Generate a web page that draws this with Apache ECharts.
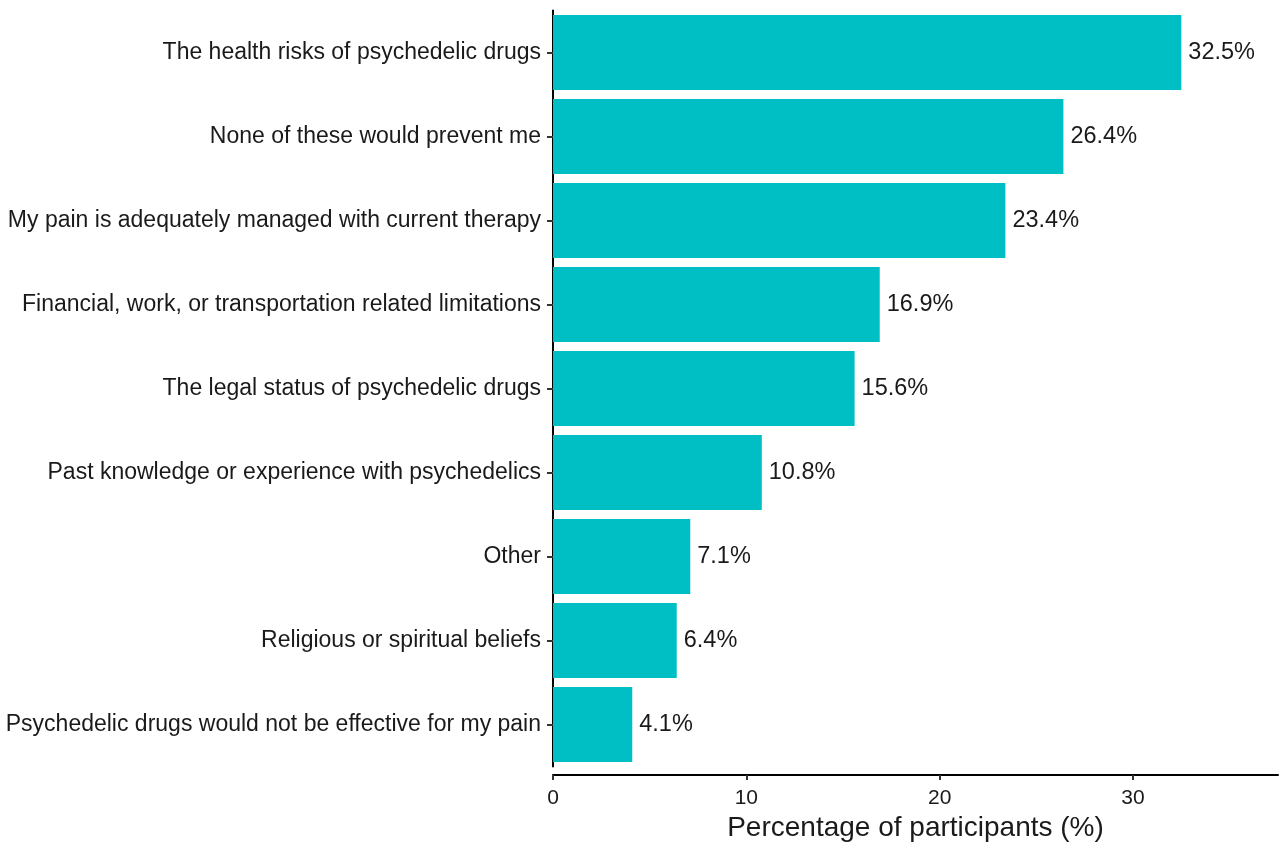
<!DOCTYPE html>
<html><head><meta charset="utf-8">
<script src="https://cdn.jsdelivr.net/npm/echarts@6/dist/echarts.min.js"></script>
<style>html,body{margin:0;padding:0;background:#fff}#c{width:1280px;height:850px}</style>
</head><body><div id="c"></div>
<script>
const categories = [
  "The health risks of psychedelic drugs",
  "None of these would prevent me",
  "My pain is adequately managed with current therapy",
  "Financial, work, or transportation related limitations",
  "The legal status of psychedelic drugs",
  "Past knowledge or experience with psychedelics",
  "Other",
  "Religious or spiritual beliefs",
  "Psychedelic drugs would not be effective for my pain"
];
const values = [32.5, 26.4, 23.4, 16.9, 15.6, 10.8, 7.1, 6.4, 4.1];
const xTicks = [0, 10, 20, 30];

const chart = echarts.init(document.getElementById('c'), null, {renderer: 'canvas'});
const font = 'Liberation Sans, Arial, Helvetica, sans-serif';
chart.setOption({
  animation: false,
  backgroundColor: '#fff',
  grid: {left: 553, right: 2, top: 10.5, bottom: 83.5, containLabel: false, outerBoundsMode: 'none'},
  xAxis: {
    type: 'value', min: 0, max: 37.5, offset: 8.5,
    name: 'Percentage of participants (%)', nameLocation: 'middle', nameGap: 39, nameMoveOverlap: false,
    nameTextStyle: {fontSize: 28, color: '#1a1a1a', fontFamily: font},
    axisLine: {show: true, lineStyle: {color: '#000', width: 2}},
    axisTick: {show: true, length: 5, lineStyle: {color: '#333', width: 2}, customValues: xTicks},
    axisLabel: {fontSize: 21, color: '#1a1a1a', fontFamily: font, margin: 13, customValues: xTicks},
    splitLine: {show: false}
  },
  yAxis: {
    type: 'category', data: categories, inverse: true,
    axisLine: {show: true, lineStyle: {color: '#000', width: 2}},
    axisTick: {show: true, length: 6, alignWithLabel: true, lineStyle: {color: '#333', width: 2}},
    axisLabel: {fontSize: 23, color: '#1a1a1a', fontFamily: font, margin: 12}
  },
  series: [{
    type: 'bar', data: values, barCategoryGap: '10.7%',
    itemStyle: {color: '#00BFC4'},
    label: {show: true, position: 'right', distance: 7, fontSize: 23.5, color: '#1a1a1a', fontFamily: font,
      formatter: p => p.value.toFixed(1) + '%'}
  }]
});
</script></body></html>
